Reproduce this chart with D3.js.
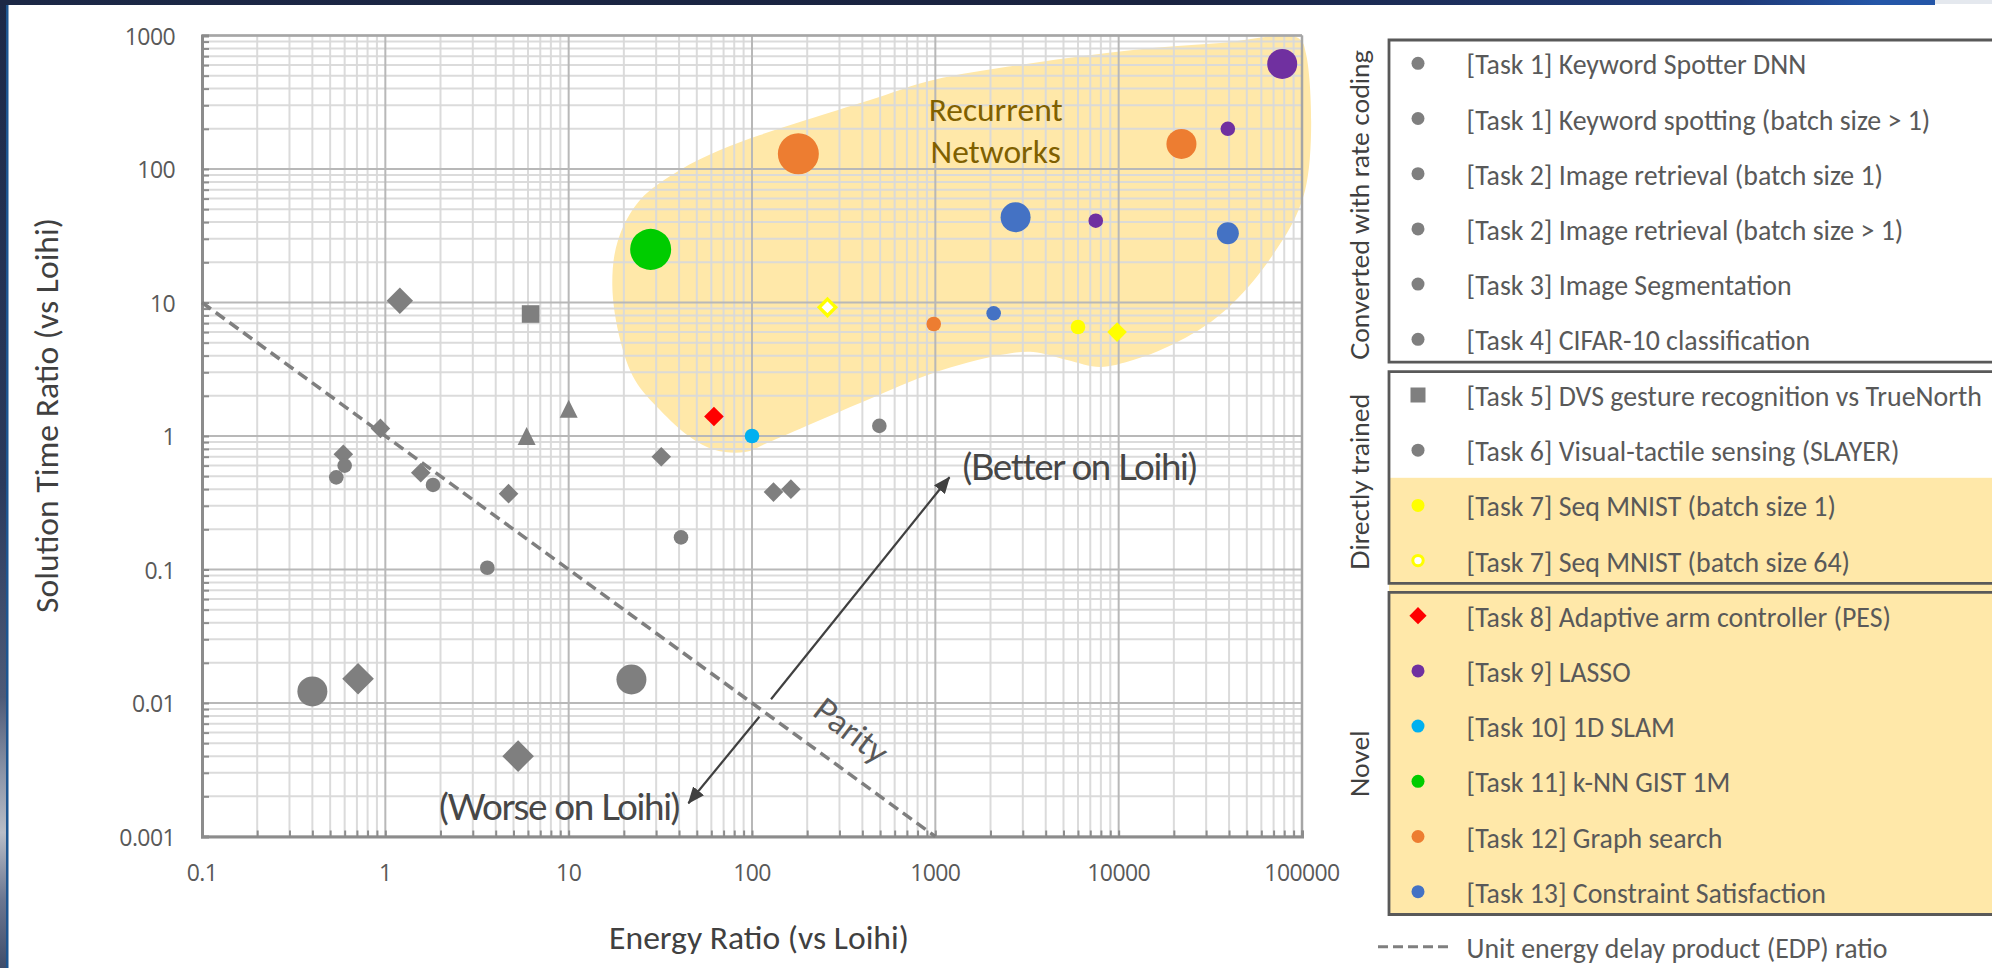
<!DOCTYPE html>
<html>
<head>
<meta charset="utf-8">
<script src="https://cdn.jsdelivr.net/npm/d3@7/dist/d3.min.js"></script>
<style>
  html, body { margin: 0; padding: 0; background: #ffffff; }
  svg { display: block; }
</style>
</head>
<body>
<svg id="chart" width="1992" height="968"></svg>
<script>
// ================= DATA =================
const xTickValues = [0.1, 1, 10, 100, 1000, 10000, 100000];
const xTickLabels = ["0.1", "1", "10", "100", "1000", "10000", "100000"];
const yTickValues = [0.001, 0.01, 0.1, 1, 10, 100, 1000];
const yTickLabels = ["0.001", "0.01", "0.1", "1", "10", "100", "1000"];

const xAxisTitle = "Energy Ratio (vs Loihi)";
const yAxisTitle = "Solution Time Ratio (vs Loihi)";

const taskNames = [
  "[Task 1] Keyword Spotter DNN",
  "[Task 1] Keyword spotting (batch size > 1)",
  "[Task 2] Image retrieval (batch size 1)",
  "[Task 2] Image retrieval (batch size > 1)",
  "[Task 3] Image Segmentation",
  "[Task 4] CIFAR-10 classification",
  "[Task 5] DVS gesture recognition vs TrueNorth",
  "[Task 6] Visual-tactile sensing (SLAYER)",
  "[Task 7] Seq MNIST (batch size 1)",
  "[Task 7] Seq MNIST (batch size 64)",
  "[Task 8] Adaptive arm controller (PES)",
  "[Task 9] LASSO",
  "[Task 10] 1D SLAM",
  "[Task 11] k-NN GIST 1M",
  "[Task 12] Graph search",
  "[Task 13] Constraint Satisfaction"
];
const taskColors = ["#7f7f7f", "#7f7f7f", "#7f7f7f", "#7f7f7f", "#7f7f7f", "#7f7f7f", "#7f7f7f", "#7f7f7f",
  "#ffff00", "#ffff00", "#ff0000", "#7030a0", "#00b0f0", "#00cc00", "#ed7d31", "#4472c4"];
const taskLegendShape = ["circle", "circle", "circle", "circle", "circle", "circle", "square", "circle",
  "circle", "ring", "diamond", "circle", "circle", "circle", "circle", "circle"];
const taskGroup = [0, 0, 0, 0, 0, 0, 1, 1, 1, 1, 2, 2, 2, 2, 2, 2];
const groupNames = ["Converted with rate coding", "Directly trained", "Novel"];
const highlightedTasks = [8, 9, 10, 11, 12, 13, 14, 15];
const parityLegendLabel = "Unit energy delay product (EDP) ratio";

// measured points (energy ratio, solution time ratio)
const energyRatio = [1.2, 6.2, 10, 5.9, 0.94, 0.59, 0.6, 0.54, 1.56, 1.82, 4.7, 32, 41, 3.6,
  0.4, 0.71, 22, 5.3, 131, 163, 495,
  62, 100, 28, 179, 22000, 980, 2740, 2080, 39400, 7500, 39400, 78000, 258, 6000, 9800];
const timeRatio = [10.3, 8.2, 1.6, 1.0, 1.14, 0.73, 0.6, 0.49, 0.53, 0.43, 0.37, 0.7, 0.174, 0.103,
  0.0122, 0.0152, 0.015, 0.004, 0.38, 0.40, 1.19,
  1.4, 1.0, 25, 130, 154, 6.9, 43.5, 8.3, 33, 41, 200, 612, 9.2, 6.55, 6.0];
const pointTask = [2, 6, 5, 5, 4, 2, 0, 0, 4, 4, 3, 3, 7, 7,
  1, 1, 1, 1, 3, 3, 7,
  10, 12, 13, 14, 14, 14, 15, 15, 15, 11, 11, 11, 9, 8, 8];
const pointShape = ["diamond", "square", "triangle", "triangle", "diamond", "diamond", "circle", "circle", "diamond", "circle", "diamond", "diamond", "circle", "circle",
  "circle", "diamond", "circle", "diamond", "diamond", "diamond", "circle",
  "diamond", "circle", "circle", "circle", "circle", "circle", "circle", "circle", "circle", "circle", "circle", "circle", "diamond", "circle", "diamond"];
const pointSizeClass = ["M", "S", "S", "S", "S", "S", "S", "S", "S", "S", "S", "S", "S", "S",
  "L", "L", "L", "L", "S", "S", "S",
  "S", "S", "XL", "XL", "L", "S", "L", "S", "M", "S", "S", "L", "S", "S", "S"];

// unit EDP (parity) line: energy * time = 1
const parityEnergy = [0.1, 1000];
const parityTime = [10, 0.001];

// "Recurrent Networks" region outline (data space)
const regionEnergy = [17.3, 18.6, 24.5, 40.5, 67, 110.7, 197, 440.6, 972.6, 3417, 11995, 35800, 95300, 105500,
  104100, 64600, 34470, 18390, 11995, 7925, 5236, 3417, 2257, 972.6, 424.6, 120.9, 91.7, 62.9, 45.9, 31.5, 23.0, 19.1];
const regionTime = [13.5, 29.4, 58.6, 98.3, 138.7, 179.8, 232.8, 328.7, 464.2, 622, 778.6, 878.7, 957.9, 714.5,
  69.6, 19.8, 7.79, 4.64, 3.71, 3.29, 3.71, 4.26, 4.04, 2.96, 1.86, 0.886, 0.759, 0.785, 0.983, 1.566, 2.63, 5.24];
const regionLabel = ["Recurrent", "Networks"];
const regionLabelEnergy = 2133;
const regionLabelTime = [230, 110.3];

// arrow annotations (data space)
const betterArrow = { from: [127, 0.01066], to: [1194, 0.491], label: "(Better on Loihi)", labelAt: [6088, 0.468] };
const worseArrow = { from: [109.7, 0.00789], to: [45, 0.001774], label: "(Worse on Loihi)", labelAt: [8.86, 0.00133] };
const parityLabel = { text: "Parity", at: [350, 0.00628] };

// ================= LAYOUT =================
const W = 1992, H = 968;
const plot = { left: 202, right: 1302, top: 35.5, bottom: 836.5 };
const svg = d3.select("#chart");
const defs = svg.append("defs");

const x = d3.scaleLog().domain([0.1, 100000]).range([plot.left, plot.right]);
const y = d3.scaleLog().domain([0.001, 1000]).range([plot.bottom, plot.top]);
const color = d3.scaleOrdinal().domain(d3.range(taskNames.length)).range(taskColors);

const radiusFor = {
  circle: { S: 7.3, M: 11, L: 15, XL: 20.5 },
  diamond: { S: 9.8, M: 13.2, L: 15.8 },
  square: { S: 8.8 },
  triangle: { S: 9 }
};

function shapePath(shape, r) {
  switch (shape) {
    case "diamond": return `M0,${-r}L${r},0L0,${r}L${-r},0Z`;
    case "square": return `M${-r},${-r}h${2 * r}v${2 * r}h${-2 * r}Z`;
    case "triangle": return `M0,${-r}L${r},${r}L${-r},${r}Z`;
    default: return `M${r},0A${r},${r},0,1,1,${-r},0A${r},${r},0,1,1,${r},0Z`;
  }
}

function fitText(sel, target) {
  const w = sel.node().getComputedTextLength();
  const fs = parseFloat(sel.attr("font-size"));
  const nfs = fs * target / w;
  sel.attr("font-size", nfs);
  return nfs;
}

// ================= SLIDE BACKGROUND =================
svg.append("rect").attr("x", 0).attr("y", 0).attr("width", W).attr("height", H).attr("fill", "#ffffff");
const lg = defs.append("linearGradient").attr("id", "leftGrad").attr("x1", 0).attr("y1", 0).attr("x2", 0).attr("y2", 1);
[[0, "#1c2846"], [0.5, "#2b3a5c"], [0.72, "#4d5a77"], [0.8, "#8c95a8"], [0.86, "#b8bdc7"], [0.93, "#6b7690"], [1, "#3f4d6b"]]
  .forEach(s => lg.append("stop").attr("offset", s[0]).attr("stop-color", s[1]));
const tg = defs.append("linearGradient").attr("id", "topGrad").attr("x1", 0).attr("y1", 0).attr("x2", 1).attr("y2", 0);
[[0, "#1c2846"], [0.6, "#1a2340"], [0.9, "#1f3a78"], [0.97, "#2456a8"], [1, "#2456a8"]]
  .forEach(s => tg.append("stop").attr("offset", s[0]).attr("stop-color", s[1]));
svg.append("rect").attr("x", 0).attr("y", 0).attr("width", 8).attr("height", H).attr("fill", "url(#leftGrad)");
svg.append("rect").attr("x", 6).attr("y", 0).attr("width", 2.5).attr("height", H).attr("fill", "#1d5590");
svg.append("rect").attr("x", 0).attr("y", 0).attr("width", 1935).attr("height", 5).attr("fill", "url(#topGrad)");
svg.append("rect").attr("x", 1935).attr("y", 0).attr("width", 57).attr("height", 4).attr("fill", "#e4e8ee");

// ================= PLOT =================
const g = svg.append("g");

// recurrent region
const regionPts = regionEnergy.map((e, i) => [x(e), y(regionTime[i])]);
g.append("path")
  .attr("d", d3.line().curve(d3.curveCatmullRomClosed.alpha(0.5))(regionPts))
  .attr("fill", "#ffe8a9");

// grid
const isMajor = v => Math.abs(Math.log10(v) - Math.round(Math.log10(v))) < 1e-9;
const xAll = x.ticks(), yAll = y.ticks();
const grid = g.append("g");
grid.selectAll(".vx").data(xAll.filter(v => !isMajor(v))).join("line")
  .attr("x1", d => x(d)).attr("x2", d => x(d)).attr("y1", plot.top).attr("y2", plot.bottom)
  .attr("stroke", "#d9d9d9").attr("stroke-width", 2).attr("stroke-opacity", 0.95);
grid.selectAll(".hy").data(yAll.filter(v => !isMajor(v))).join("line")
  .attr("y1", d => y(d)).attr("y2", d => y(d)).attr("x1", plot.left).attr("x2", plot.right)
  .attr("stroke", "#d9d9d9").attr("stroke-width", 2).attr("stroke-opacity", 0.95);
grid.selectAll(".vmx").data(xTickValues).join("line")
  .attr("x1", d => x(d)).attr("x2", d => x(d)).attr("y1", plot.top).attr("y2", plot.bottom)
  .attr("stroke", "#b8b8b8").attr("stroke-width", 2);
grid.selectAll(".hmy").data(yTickValues).join("line")
  .attr("y1", d => y(d)).attr("y2", d => y(d)).attr("x1", plot.left).attr("x2", plot.right)
  .attr("stroke", "#b8b8b8").attr("stroke-width", 2);

// frame
g.append("line").attr("x1", plot.left).attr("x2", plot.right).attr("y1", plot.top).attr("y2", plot.top)
  .attr("stroke", "#a6a6a6").attr("stroke-width", 2.5);
g.append("line").attr("x1", plot.right).attr("x2", plot.right).attr("y1", plot.top).attr("y2", plot.bottom)
  .attr("stroke", "#a6a6a6").attr("stroke-width", 2.5);

// axes via d3 axis generators (ticks inside)
const xAxis = d3.axisBottom(x).tickValues(xAll).tickSize(-6).tickFormat("");
const yAxis = d3.axisLeft(y).tickValues(yAll).tickSize(-7).tickFormat("");
const gx = g.append("g").attr("transform", `translate(0,${plot.bottom})`).call(xAxis);
const gy = g.append("g").attr("transform", `translate(${plot.left},0)`).call(yAxis);
[gx, gy].forEach(a => {
  a.select(".domain").attr("stroke", "#8c8c8c").attr("stroke-width", 3);
  a.selectAll(".tick line").attr("stroke", "#8c8c8c").attr("stroke-width", 2);
});

// tick labels
const tickFont = "'Open Sans', 'Noto Sans', sans-serif";
g.append("g").selectAll("text").data(xTickValues).join("text")
  .attr("x", d => x(d)).attr("y", plot.bottom + 35)
  .attr("text-anchor", "middle").attr("dominant-baseline", "central")
  .attr("font-family", tickFont).attr("font-size", 23).attr("fill", "#595959")
  .attr("letter-spacing", -0.6)
  .text((d, i) => xTickLabels[i]);
g.append("g").selectAll("text").data(yTickValues).join("text")
  .attr("x", plot.left - 27).attr("y", d => y(d))
  .attr("text-anchor", "end").attr("dominant-baseline", "central")
  .attr("font-family", tickFont).attr("font-size", 23).attr("fill", "#595959")
  .attr("letter-spacing", -0.6)
  .text((d, i) => yTickLabels[i]);

// axis titles
const titleFont = "Carlito, Lato, 'Open Sans', sans-serif";
const xt = svg.append("text").attr("x", 759).attr("y", 937)
  .attr("text-anchor", "middle").attr("dominant-baseline", "central")
  .attr("font-family", titleFont).attr("font-size", 26).attr("fill", "#404040").text(xAxisTitle);
fitText(xt, 300);
const yt = svg.append("text").attr("transform", "translate(46,415.5) rotate(-90)")
  .attr("text-anchor", "middle").attr("dominant-baseline", "central")
  .attr("font-family", titleFont).attr("font-size", 26).attr("fill", "#404040").text(yAxisTitle);
fitText(yt, 395);

// parity line
g.append("line")
  .attr("x1", x(parityEnergy[0])).attr("y1", y(parityTime[0]))
  .attr("x2", x(parityEnergy[1])).attr("y2", y(parityTime[1]))
  .attr("stroke", "#7f7f7f").attr("stroke-width", 3.5).attr("stroke-dasharray", "11,6");

// annotation arrows
defs.append("marker").attr("id", "arrowHead")
  .attr("markerUnits", "userSpaceOnUse").attr("markerWidth", 18).attr("markerHeight", 14)
  .attr("refX", 16).attr("refY", 7).attr("orient", "auto")
  .append("path").attr("d", "M0,0L17,7L0,14Z").attr("fill", "#404040");
[betterArrow, worseArrow].forEach(a => {
  g.append("line")
    .attr("x1", x(a.from[0])).attr("y1", y(a.from[1]))
    .attr("x2", x(a.to[0])).attr("y2", y(a.to[1]))
    .attr("stroke", "#404040").attr("stroke-width", 2.2)
    .attr("marker-end", "url(#arrowHead)");
});
const annFont = "Lato, 'Open Sans', sans-serif";
const bt = g.append("text").attr("x", x(betterArrow.labelAt[0])).attr("y", y(betterArrow.labelAt[1]))
  .attr("text-anchor", "middle").attr("font-family", annFont).attr("font-size", 27)
  .attr("letter-spacing", -1.4).attr("fill", "#474747").text(betterArrow.label);
fitText(bt, 225);
const wt = g.append("text").attr("x", x(worseArrow.labelAt[0])).attr("y", y(worseArrow.labelAt[1]))
  .attr("text-anchor", "middle").attr("font-family", annFont).attr("font-size", 27)
  .attr("letter-spacing", -1.4).attr("fill", "#474747").text(worseArrow.label);
fitText(wt, 232);
const angle = Math.atan2(y(parityTime[1]) - y(parityTime[0]), x(parityEnergy[1]) - x(parityEnergy[0])) * 180 / Math.PI;
const pt = g.append("text")
  .attr("transform", `translate(${x(parityLabel.at[0])},${y(parityLabel.at[1])}) rotate(${angle + 1.5})`)
  .attr("text-anchor", "middle").attr("dominant-baseline", "central")
  .attr("font-family", annFont).attr("font-size", 30).attr("fill", "#595959").text(parityLabel.text);
fitText(pt, 84);

// region label
const rl = g.append("g");
regionLabel.forEach((t, i) => {
  rl.append("text").attr("x", x(regionLabelEnergy)).attr("y", y(regionLabelTime[i]))
    .attr("text-anchor", "middle").attr("font-family", titleFont).attr("font-size", 27)
    .attr("fill", "#7f6000").text(t);
});
fitText(rl.select("text"), 134);
rl.selectAll("text").attr("font-size", rl.select("text").attr("font-size"));

// points
const points = energyRatio.map((e, i) => ({
  e, t: timeRatio[i], task: pointTask[i], shape: pointShape[i], size: pointSizeClass[i]
}));
const order = p => (taskColors[p.task] === "#7f7f7f" ? 0 : 1);
g.append("g").selectAll("path")
  .data(points.slice().sort((a, b) => order(a) - order(b)))
  .join("path")
  .attr("transform", d => `translate(${x(d.e)},${y(d.t)})`)
  .attr("d", d => {
    const hollow = taskLegendShape[d.task] === "ring";
    const r = radiusFor[d.shape][d.size] - (hollow ? 1.6 : 0);
    return shapePath(d.shape, r);
  })
  .attr("fill", d => taskLegendShape[d.task] === "ring" ? "#ffffff" : color(d.task))
  .attr("stroke", d => taskLegendShape[d.task] === "ring" ? color(d.task) : "none")
  .attr("stroke-width", 3.4);

// ================= LEGEND =================
const leg = svg.append("g");
const legLeft = 1389;
const legFirstY = [63.3, 395, 615.7];
const step = 55.2;
const groupStart = groupNames.map((_, gi) => taskGroup.indexOf(gi));
const itemY = taskNames.map((_, i) => legFirstY[taskGroup[i]] + (i - groupStart[taskGroup[i]]) * step);

// highlight
const hiTop = (itemY[highlightedTasks[0] - 1] + itemY[highlightedTasks[0]]) / 2;
const hiBottom = itemY[highlightedTasks[highlightedTasks.length - 1]] + 22.6;
leg.append("rect").attr("x", legLeft).attr("y", hiTop).attr("width", W - legLeft).attr("height", hiBottom - hiTop)
  .attr("fill", "#ffe8a9");

// group boxes
const groupLabelY = [205, 482, 764];
groupNames.forEach((name, gi) => {
  const idx = taskGroup.map((gg, i) => gg === gi ? i : -1).filter(i => i >= 0);
  const top = itemY[idx[0]] - 23.3;
  const bottom = itemY[idx[idx.length - 1]] + 22.8;
  leg.append("path")
    .attr("d", `M${W + 5},${top}H${legLeft}V${bottom}H${W + 5}`)
    .attr("fill", "none").attr("stroke", "#595959").attr("stroke-width", 2.8);
  leg.append("text").attr("class", "glabel")
    .attr("transform", `translate(1358.5,${groupLabelY[gi]}) rotate(-90)`)
    .attr("text-anchor", "middle").attr("dominant-baseline", "central")
    .attr("font-family", "Lato, 'Open Sans', sans-serif").attr("font-size", 24)
    .attr("fill", "#404040").text(name);
});
const gl = leg.selectAll(".glabel");
const glSize = fitText(d3.select(gl.nodes()[0]), 310);
gl.attr("font-size", glSize);

// items
const legendFont = "Carlito, Lato, 'Open Sans', sans-serif";
const items = leg.selectAll(".item").data(taskNames).join("g").attr("class", "item")
  .attr("transform", (d, i) => `translate(0,${itemY[i]})`);
items.append("path")
  .attr("transform", "translate(1418,0)")
  .attr("d", (d, i) => {
    const s = taskLegendShape[i];
    if (s === "square") return shapePath("square", 7.5);
    if (s === "diamond") return shapePath("diamond", 8.6);
    if (s === "ring") return shapePath("circle", 5.2);
    return shapePath("circle", 6.5);
  })
  .attr("fill", (d, i) => taskLegendShape[i] === "ring" ? "#ffffff" : color(i))
  .attr("stroke", (d, i) => taskLegendShape[i] === "ring" ? color(i) : "none")
  .attr("stroke-width", 3);
const itemTexts = items.append("text").attr("x", 1466.6).attr("y", 1)
  .attr("dominant-baseline", "central").attr("font-family", legendFont).attr("font-size", 24)
  .attr("fill", "#595959").text(d => d);
const legSize = fitText(d3.select(itemTexts.nodes()[6]), 515.6);
itemTexts.attr("font-size", legSize);

// parity legend
leg.append("line").attr("x1", 1378).attr("x2", 1453).attr("y1", 946.7).attr("y2", 946.7)
  .attr("stroke", "#7f7f7f").attr("stroke-width", 3).attr("stroke-dasharray", "10,5");
leg.append("text").attr("x", 1466.6).attr("y", 947.7).attr("dominant-baseline", "central")
  .attr("font-family", legendFont).attr("font-size", legSize).attr("fill", "#595959").text(parityLegendLabel);
</script>
</body>
</html>
